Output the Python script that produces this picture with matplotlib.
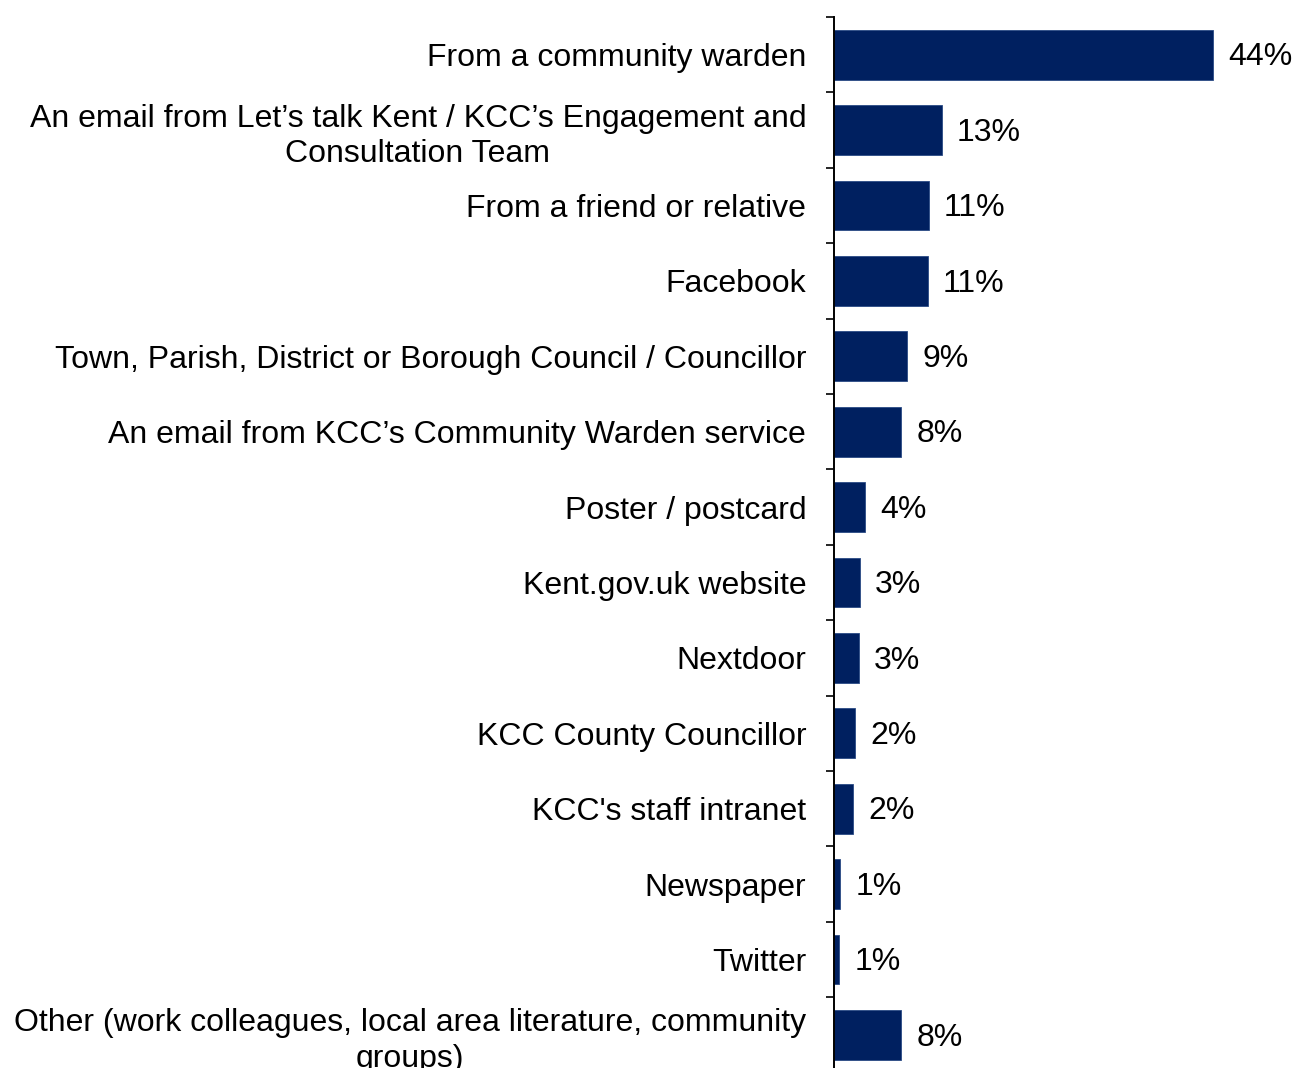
import matplotlib
matplotlib.use("Agg")
import matplotlib.pyplot as plt
import numpy as np

plt.rcParams['font.family'] = ['Liberation Sans', 'DejaVu Sans']

categories = [
    "From a community warden",
    "An email from Let\u2019s talk Kent / KCC\u2019s Engagement and\nConsultation Team",
    "From a friend or relative",
    "Facebook",
    "Town, Parish, District or Borough Council / Councillor",
    "An email from KCC\u2019s Community Warden service",
    "Poster / postcard",
    "Kent.gov.uk website",
    "Nextdoor",
    "KCC County Councillor",
    "KCC's staff intranet",
    "Newspaper",
    "Twitter",
    "Other (work colleagues, local area literature, community\ngroups)",
]
values = [44.1, 12.5, 11.0, 10.9, 8.5, 7.8, 3.6, 3.0, 2.9, 2.4, 2.2, 0.7, 0.6, 7.8]
value_labels = ["44%", "13%", "11%", "11%", "9%", "8%", "4%", "3%", "3%",
                "2%", "2%", "1%", "1%", "8%"]

bar_color = '#002060'
font_size = 23.0

W, H = 1295, 1068
fig = plt.figure(figsize=(W / 100, H / 100), dpi=100)

# axes frame in pixels: left spine at x=834, top boundary y=17, 14 rows of ~75.4 px
x0, y_top, row_h = 834, 17, 75.4
px_per_pct = 8.6
xmax = 50
ax_w = xmax * px_per_pct
ax_h = row_h * len(categories)
ax = fig.add_axes([x0 / W, 1 - (y_top + ax_h) / H, ax_w / W, ax_h / H])

y = np.arange(len(categories))
ax.barh(y, values, height=0.66, color=bar_color, edgecolor='#2a4a85', linewidth=0.6)

for yi, v, lab in zip(y, values, value_labels):
    ax.annotate(lab, (v, yi), xytext=(11, -2), textcoords='offset points',
                ha='left', va='center', fontsize=font_size, color='black')

ax.set_xlim(0, xmax)
ax.set_ylim(len(categories) - 0.5, -0.5)

ax.set_yticks(y)
ax.set_yticklabels(categories, fontsize=font_size, linespacing=1.25)
for t in ax.get_yticklabels():
    t.set_multialignment('center')
ax.tick_params(axis='y', which='major', length=0, pad=20)
ax.set_yticks(np.arange(len(categories) + 1) - 0.5, minor=True)
ax.tick_params(axis='y', which='minor', length=5.5, width=1.2, color='black')

ax.set_xticks([])
for side in ['top', 'right', 'bottom']:
    ax.spines[side].set_visible(False)
ax.spines['left'].set_linewidth(1.4)
ax.spines['left'].set_color('black')

fig.savefig('out.png', dpi=100)
